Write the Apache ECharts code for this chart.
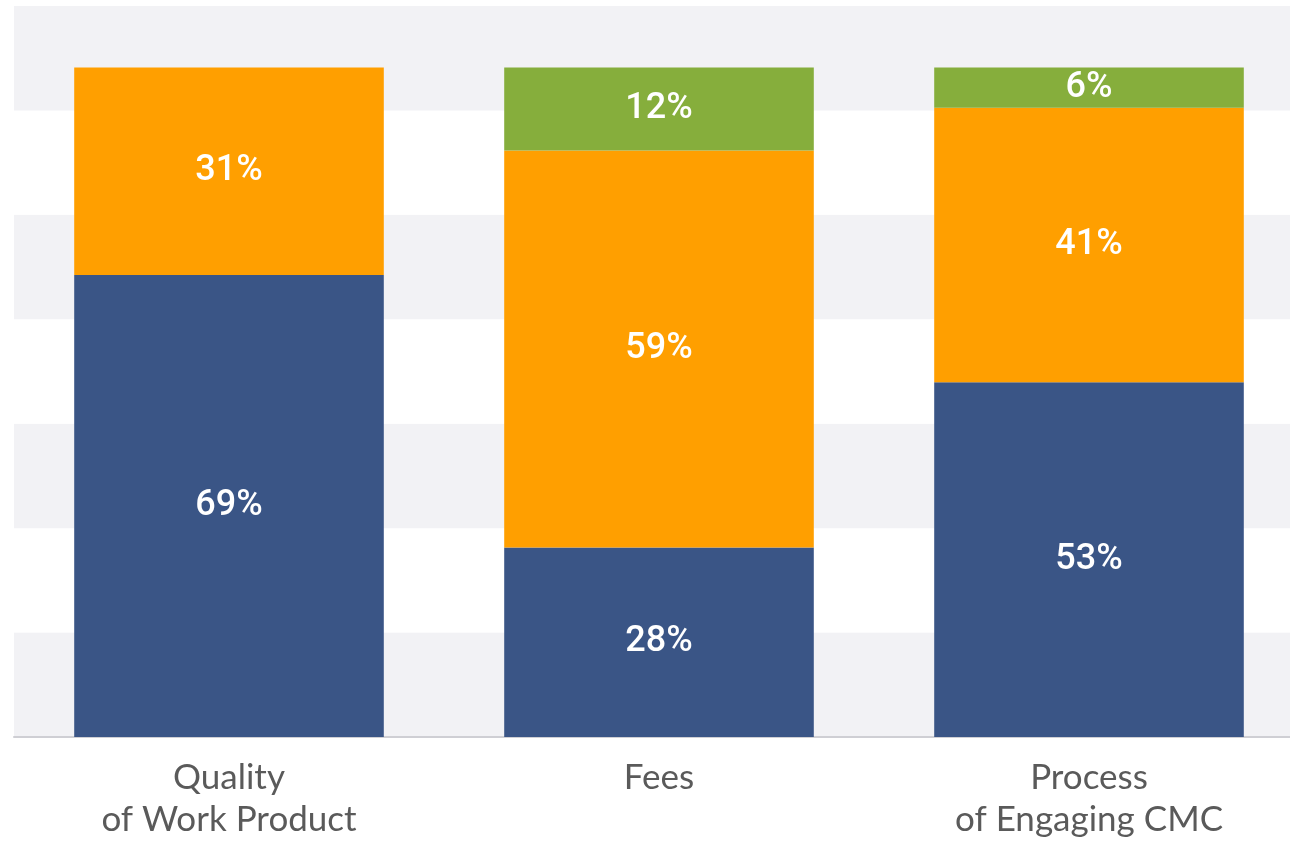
<!DOCTYPE html>
<html>
<head>
<meta charset="utf-8">
<style>
    html, body{
        margin: 0;
        padding: 0;
        background: #fff;
        overflow: hidden;
    }
    #stack-bar{
        width: 1304px;
        height: 841px;
    }
</style>
<script src="https://cdn.jsdelivr.net/npm/echarts@6/dist/echarts.min.js"></script>
</head>
<body>
<div id="stack-bar"></div>
<script>
    // categories along the x axis
    const categories = ['Quality\nof Work Product', 'Fees', 'Process\nof Engaging CMC']
    // segment heights in % (labels show them rounded)
    const bottomValues = [69, 28.3, 53]
    const middleValues = [31, 59.3, 41]
    const topValues = [0, 12.4, 6]

    const colors = {
        bottom: '#3a5586',
        middle: '#ff9f00',
        top: '#86ae3c'
    }

    function makeSeries(name, values, color){
        return {
            name: name,
            type: 'bar',
            stack: 'total',
            barWidth: '72%',
            data: values,
            itemStyle: {color: color},
            label: {
                show: true,
                position: 'inside',
                color: '#fff',
                fontFamily: 'Roboto',
                fontWeight: 500,
                fontSize: 36,
                formatter: p => p.value > 0 ? Math.round(p.value) + '%' : ''
            }
        }
    }

    let chart = echarts.init(document.getElementById('stack-bar'))
    let options = {
        animation: false,
        grid: {
            left: 14,
            top: 6,
            right: 0,
            height: 733
        },
        xAxis: {
            type: 'category',
            data: categories,
            axisLine: {lineStyle: {color: '#cfcfd4', width: 2}},
            axisTick: {show: false},
            axisLabel: {
                color: '#5a5a5a',
                fontFamily: 'Lato',
                fontSize: 35,
                lineHeight: 42,
                margin: 20
            }
        },
        yAxis: {
            type: 'value',
            min: 0,
            max: 109.2,
            interval: 15.6,
            axisLabel: {show: false},
            axisLine: {show: false},
            axisTick: {show: false},
            splitLine: {show: false},
            splitArea: {
                show: true,
                areaStyle: {color: ['#f2f2f5', '#ffffff']}
            }
        },
        series: [
            makeSeries('bottom', bottomValues, colors.bottom),
            makeSeries('middle', middleValues, colors.middle),
            makeSeries('top', topValues, colors.top)
        ]
    }
    chart.setOption(options)
</script>
</body>
</html>
